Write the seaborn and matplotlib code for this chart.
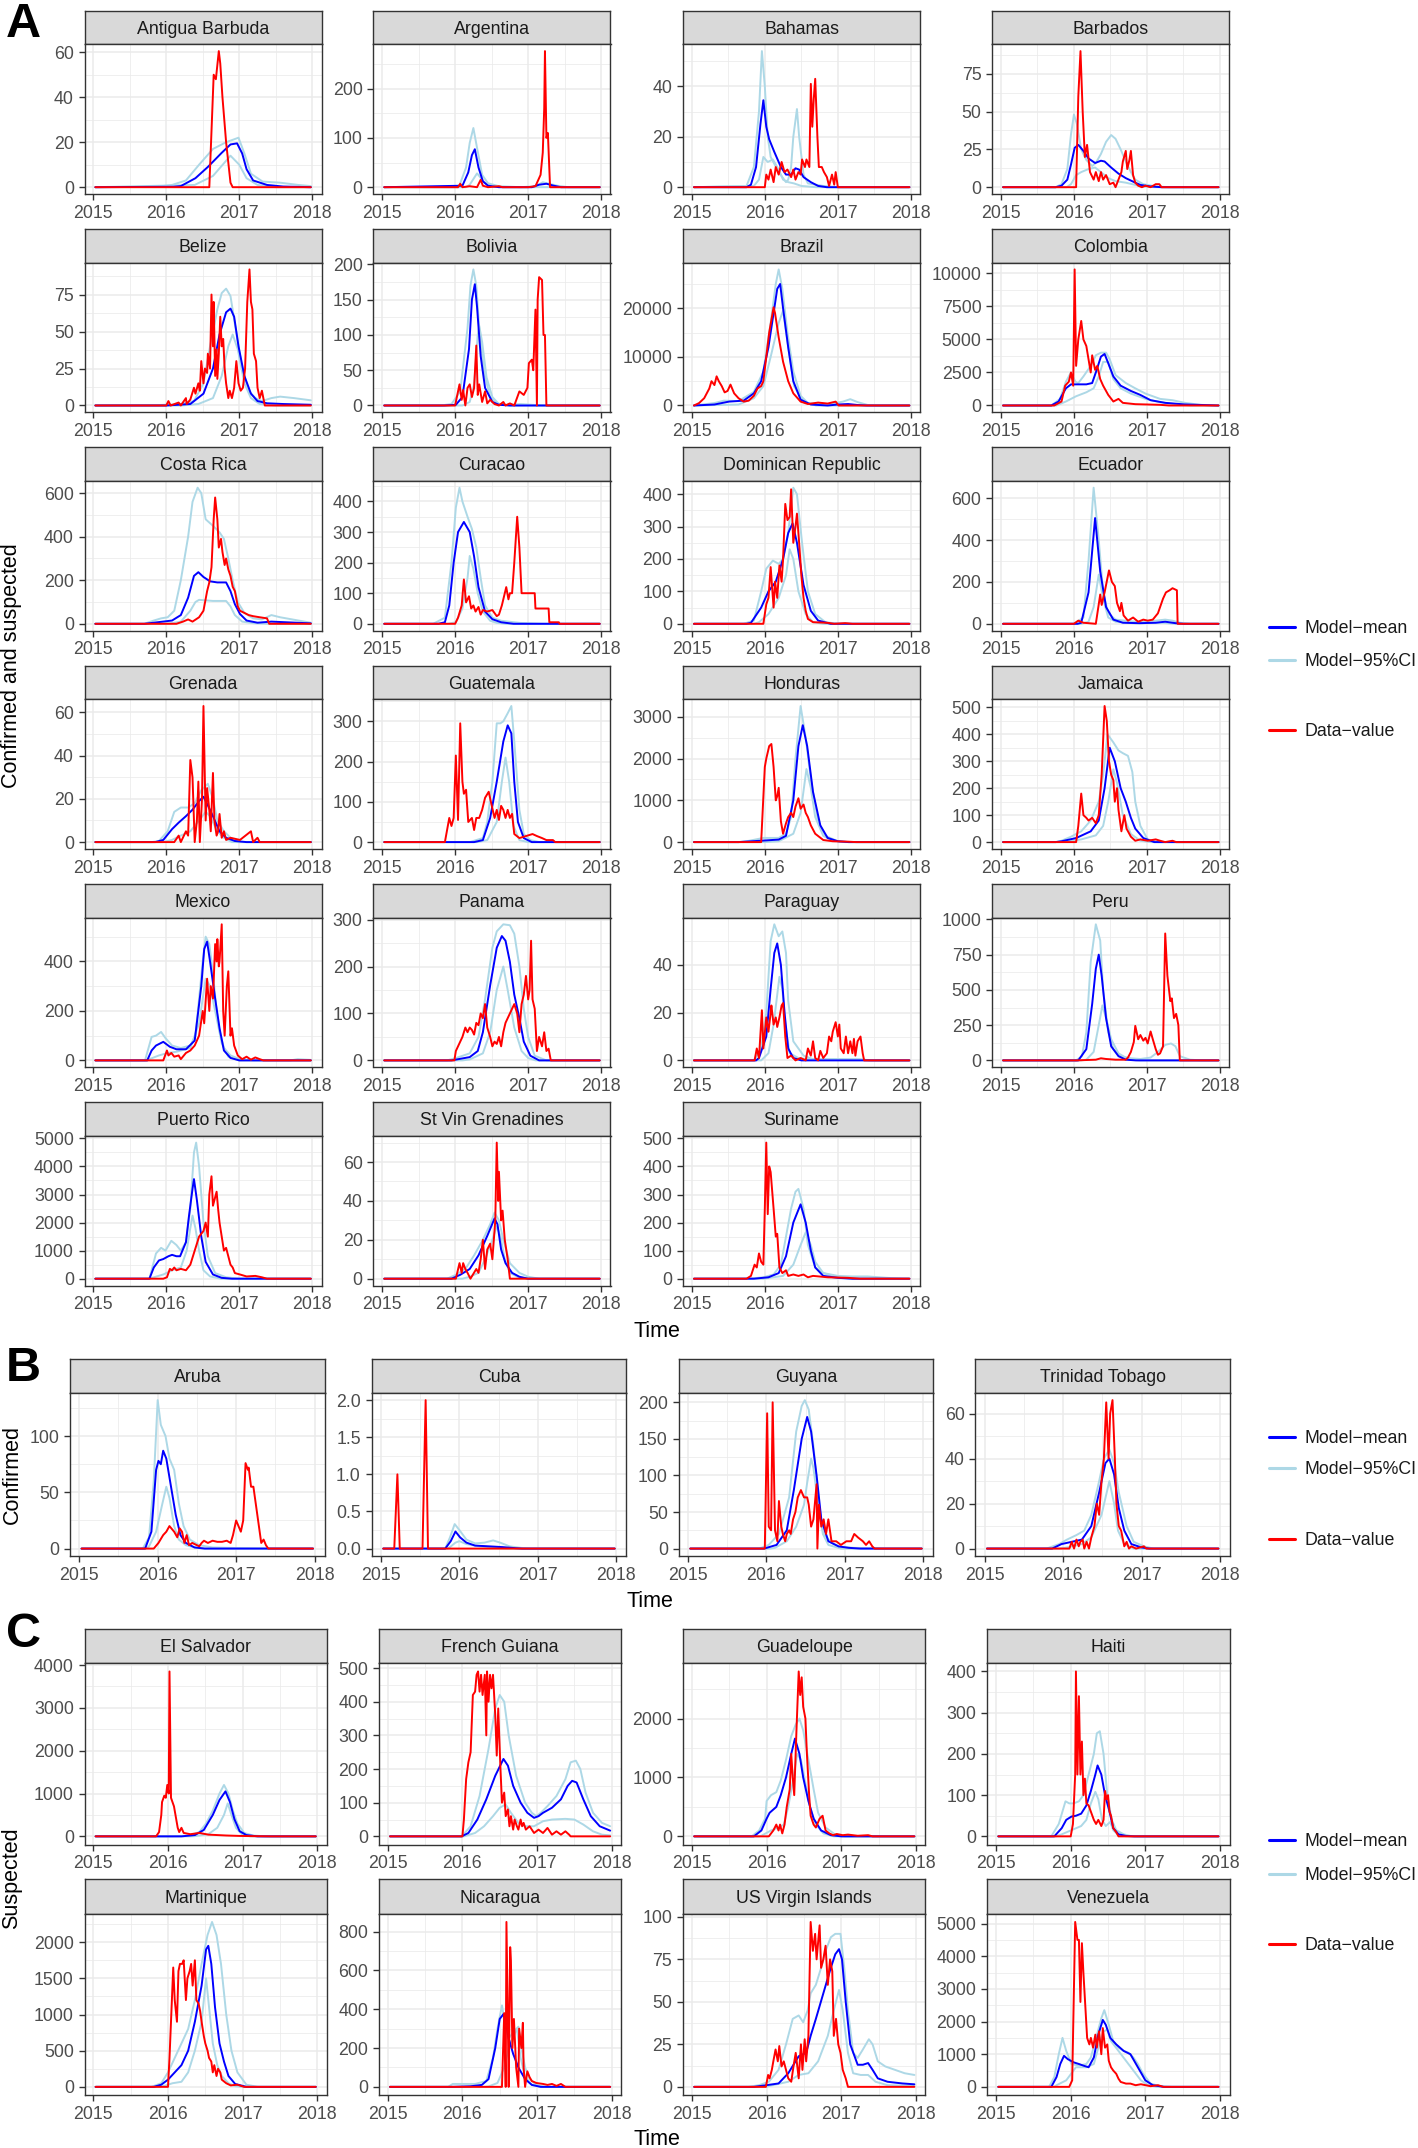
import matplotlib
matplotlib.use("Agg")
import matplotlib.pyplot as plt
from matplotlib.lines import Line2D
import seaborn as sns

W, H = 1418, 2148

# DATA  (decimal year, cases) -- hi/lo = model 95% CI, mean = model mean, obs = reported data

antigua_hi = [(2015.03,0),(2015.9,0.3),(2016.08,1),(2016.27,3),(2016.45,10),(2016.64,17),(2016.82,20),(2016.99,22),(2017.07,15),(2017.16,6),(2017.32,2.5),(2017.56,2),(2017.81,1),(2017.98,0.5)]
antigua_lo = [(2015.03,0),(2016.39,1),(2016.64,5),(2016.88,14),(2017.0,10),(2017.1,4),(2017.25,1),(2017.5,0),(2017.98,0)]
antigua_mean = [(2015.03,0),(2016.1,0.2),(2016.2,0.5),(2016.4,4),(2016.57,9),(2016.76,15.3),(2016.88,19),(2016.97,19.5),(2017.04,15),(2017.1,8),(2017.19,3),(2017.38,1),(2017.6,0.3),(2017.98,0)]
antigua_obs = [(2015.03,0),(2016.59,0),(2016.65,50),(2016.68,48),(2016.72,60.5),(2016.74,55),(2016.77,40),(2016.82,20),(2016.88,2),(2016.91,0),(2017.98,0)]
antigua_ticks = [0, 20, 40, 60]

argentina_hi = [(2015.03,0),(2016.05,0),(2016.15,40),(2016.2,90),(2016.25,120),(2016.3,80),(2016.37,25),(2016.45,8),(2016.6,2),(2016.9,0),(2017.1,2),(2017.2,10),(2017.4,3),(2017.55,0),(2017.98,0)]
argentina_lo = [(2015.03,0),(2016.15,0),(2016.2,5),(2016.3,28),(2016.4,10),(2016.5,2),(2016.65,0),(2017.98,0)]
argentina_mean = [(2015.03,0),(2016.1,3),(2016.18,30),(2016.23,65),(2016.27,77),(2016.32,40),(2016.38,12),(2016.45,3),(2016.6,0),(2017.05,0),(2017.15,5),(2017.25,7),(2017.35,3),(2017.45,0),(2017.98,0)]
argentina_obs = [(2015.03,0),(2016.04,0),(2016.07,7),(2016.1,0),(2016.2,2),(2016.3,0),(2016.35,15),(2016.38,3),(2016.45,0),(2016.6,2),(2016.65,0),(2017.0,0),(2017.1,2),(2017.17,25),(2017.2,70),(2017.22,160),(2017.23,276),(2017.25,100),(2017.27,110),(2017.3,0),(2017.98,0)]
argentina_ticks = [0, 100, 200]

bahamas_hi = [(2015.03,0),(2015.75,0.5),(2015.85,8),(2015.92,30),(2015.96,54),(2016.0,40),(2016.04,20),(2016.08,12),(2016.19,6),(2016.29,2),(2016.32,3),(2016.36,8),(2016.39,20),(2016.44,31),(2016.47,20),(2016.53,5),(2016.59,1.5),(2016.8,0.5),(2017.0,0),(2017.98,0)]
bahamas_lo = [(2015.03,0),(2015.85,0.5),(2015.92,3),(2015.98,12),(2016.04,10),(2016.11,11),(2016.19,7),(2016.25,3),(2016.32,2),(2016.4,1.5),(2016.5,0.5),(2016.7,0),(2017.98,0)]
bahamas_mean = [(2015.03,0),(2015.75,0),(2015.81,1),(2015.88,8),(2015.94,25),(2015.98,34.5),(2016.02,24),(2016.06,19),(2016.13,14),(2016.22,8),(2016.29,5),(2016.36,5),(2016.42,7.5),(2016.47,7),(2016.53,4),(2016.63,2),(2016.73,0.5),(2016.85,0),(2017.98,0)]
bahamas_obs = [(2015.03,0),(2016.0,0),(2016.02,5),(2016.05,3),(2016.08,7),(2016.12,2),(2016.15,8),(2016.19,5),(2016.23,10),(2016.27,6),(2016.31,7),(2016.36,4),(2016.39,7),(2016.42,3),(2016.46,6),(2016.49,5),(2016.51,11),(2016.55,8),(2016.57,11),(2016.61,8),(2016.63,41),(2016.65,24),(2016.67,35),(2016.69,43),(2016.72,20),(2016.74,8),(2016.78,8),(2016.81,6),(2016.85,4),(2016.88,0.5),(2016.92,5),(2016.95,1),(2016.97,6),(2017.0,0),(2017.98,0)]
bahamas_ticks = [0, 20, 40]

barbados_hi = [(2015.03,0),(2015.75,0),(2015.83,2),(2015.91,12),(2015.96,35),(2016.0,48),(2016.04,42),(2016.1,25),(2016.17,18),(2016.25,14),(2016.3,16),(2016.37,22),(2016.44,30),(2016.51,34.5),(2016.57,32),(2016.64,25),(2016.71,17),(2016.78,10),(2016.84,5),(2016.95,2),(2017.12,0.5),(2017.3,0),(2017.98,0)]
barbados_lo = [(2015.03,0),(2015.9,0),(2015.96,2),(2016.03,8),(2016.1,10),(2016.2,12),(2016.29,13),(2016.37,10),(2016.47,6),(2016.57,4),(2016.71,3),(2016.84,1.5),(2016.95,0.5),(2017.1,0),(2017.98,0)]
barbados_mean = [(2015.03,0),(2015.75,0),(2015.83,1),(2015.91,5),(2015.96,15),(2016.01,26),(2016.06,28),(2016.13,24),(2016.2,19),(2016.29,16),(2016.37,17.5),(2016.42,17),(2016.51,13),(2016.61,9),(2016.71,6),(2016.84,3),(2016.91,1.5),(2017.05,0.5),(2017.2,0),(2017.98,0)]
barbados_obs = [(2015.03,0),(2016.03,0),(2016.06,60),(2016.09,90),(2016.12,50),(2016.15,20),(2016.18,28),(2016.22,10),(2016.27,5),(2016.3,10),(2016.34,4),(2016.37,10),(2016.4,5),(2016.44,8),(2016.49,2),(2016.54,3),(2016.57,0),(2016.61,5),(2016.65,10),(2016.67,17),(2016.71,24),(2016.73,12),(2016.76,18),(2016.78,24),(2016.81,8),(2016.84,3),(2016.88,1),(2016.93,0),(2016.98,1),(2017.05,0),(2017.12,2),(2017.17,2),(2017.2,0),(2017.98,0)]
barbados_ticks = [0, 25, 50, 75]

belize_hi = [(2015.03,0),(2015.9,0.3),(2016.2,1),(2016.38,3),(2016.51,15),(2016.6,40),(2016.7,65),(2016.76,76),(2016.82,79),(2016.88,74),(2016.94,55),(2017.04,25),(2017.13,10),(2017.22,5),(2017.31,3),(2017.44,5),(2017.56,6),(2017.75,5),(2017.98,3.5)]
belize_lo = [(2015.03,0),(2016.2,0),(2016.44,1),(2016.64,5),(2016.76,20),(2016.85,40),(2016.91,48),(2016.98,38),(2017.07,15),(2017.16,5),(2017.28,1),(2017.5,0),(2017.98,0)]
belize_mean = [(2015.03,0),(2016.0,0),(2016.33,1),(2016.51,8),(2016.64,25),(2016.73,48),(2016.82,63),(2016.88,65.5),(2016.93,60),(2016.99,40),(2017.07,20),(2017.16,8),(2017.25,3),(2017.38,1.5),(2017.6,1),(2017.98,0.5)]
belize_obs = [(2015.03,0),(2016.0,0),(2016.03,3),(2016.06,0),(2016.17,2),(2016.2,0),(2016.27,5),(2016.28,1),(2016.33,4),(2016.38,12),(2016.4,8),(2016.44,15),(2016.46,10),(2016.48,30),(2016.51,15),(2016.53,25),(2016.56,22),(2016.57,35),(2016.6,25),(2016.62,75),(2016.64,40),(2016.65,70),(2016.67,20),(2016.69,38),(2016.7,18),(2016.72,35),(2016.74,60),(2016.76,40),(2016.78,45),(2016.8,25),(2016.82,15),(2016.85,5),(2016.87,10),(2016.9,5),(2016.93,12),(2016.96,30),(2016.99,15),(2017.02,10),(2017.05,12),(2017.08,25),(2017.11,70),(2017.14,92),(2017.16,70),(2017.18,65),(2017.2,35),(2017.23,30),(2017.25,12),(2017.28,5),(2017.31,10),(2017.35,0),(2017.98,0)]
belize_ticks = [0, 25, 50, 75]

bolivia_hi = [(2015.03,0),(2015.8,0),(2015.95,2),(2016.07,20),(2016.17,110),(2016.21,170),(2016.25,193),(2016.29,170),(2016.33,110),(2016.4,45),(2016.48,12),(2016.57,3),(2016.69,1),(2016.9,2),(2017.05,1),(2017.2,0),(2017.98,0)]
bolivia_lo = [(2015.03,0),(2016.1,0),(2016.2,5),(2016.26,30),(2016.31,100),(2016.33,113),(2016.37,90),(2016.43,40),(2016.51,12),(2016.6,2),(2016.75,0),(2017.98,0)]
bolivia_mean = [(2015.03,0),(2015.85,0),(2016.01,1),(2016.1,12),(2016.19,80),(2016.23,150),(2016.27,172),(2016.3,140),(2016.35,70),(2016.41,25),(2016.51,5),(2016.6,1),(2016.75,0),(2017.98,0)]
bolivia_obs = [(2015.03,0),(2016.0,0),(2016.02,10),(2016.06,30),(2016.09,8),(2016.11,22),(2016.14,0),(2016.17,25),(2016.2,30),(2016.23,12),(2016.26,25),(2016.29,85),(2016.31,15),(2016.33,30),(2016.37,5),(2016.41,20),(2016.44,3),(2016.48,8),(2016.54,2),(2016.6,0),(2016.66,5),(2016.69,0),(2016.75,3),(2016.81,0),(2016.88,20),(2016.94,15),(2016.99,25),(2017.01,60),(2017.05,65),(2017.07,50),(2017.1,136),(2017.12,0),(2017.13,150),(2017.15,182),(2017.19,178),(2017.21,100),(2017.23,100),(2017.25,0),(2017.98,0)]
bolivia_ticks = [0, 50, 100, 150, 200]

brazil_hi = [(2015.03,0),(2015.31,500),(2015.44,1000),(2015.64,900),(2015.85,2800),(2015.98,7000),(2016.08,17000),(2016.15,25000),(2016.19,28000),(2016.24,24000),(2016.31,15000),(2016.39,7000),(2016.49,2000),(2016.59,500),(2016.86,200),(2017.07,800),(2017.17,1300),(2017.27,700),(2017.41,100),(2017.55,0),(2017.98,0)]
brazil_lo = [(2015.03,0),(2015.64,200),(2015.85,1500),(2015.98,4000),(2016.08,10000),(2016.19,17000),(2016.25,19500),(2016.32,12000),(2016.4,4000),(2016.53,800),(2016.7,0),(2017.98,0)]
brazil_mean = [(2015.03,0),(2015.31,200),(2015.51,800),(2015.71,1000),(2015.85,2500),(2015.95,5000),(2016.05,12000),(2016.12,19000),(2016.17,24000),(2016.21,25000),(2016.25,20000),(2016.32,12000),(2016.39,5000),(2016.49,1200),(2016.63,200),(2016.86,0),(2017.0,200),(2017.14,300),(2017.27,100),(2017.4,0),(2017.98,0)]
brazil_obs = [(2015.03,0),(2015.1,500),(2015.17,1500),(2015.24,3500),(2015.27,5000),(2015.31,4200),(2015.34,6000),(2015.37,5000),(2015.41,4000),(2015.45,2700),(2015.49,3000),(2015.53,4300),(2015.58,2500),(2015.64,1500),(2015.71,800),(2015.78,1000),(2015.85,2000),(2015.9,3500),(2015.95,4000),(2015.98,5000),(2016.02,10000),(2016.06,15000),(2016.12,20200),(2016.14,19000),(2016.19,14000),(2016.25,9000),(2016.32,5000),(2016.39,2500),(2016.49,800),(2016.59,300),(2016.73,600),(2016.86,400),(2016.97,800),(2017.01,0),(2017.98,0)]
brazil_ticks = [0, 10000, 20000]

colombia_hi = [(2015.03,0),(2015.69,0),(2015.81,500),(2015.89,1800),(2015.96,2500),(2016.02,1800),(2016.06,1700),(2016.13,2200),(2016.23,3000),(2016.3,3800),(2016.37,4000),(2016.44,4000),(2016.49,3500),(2016.57,2300),(2016.71,1700),(2016.84,1300),(2016.98,900),(2017.18,500),(2017.35,400),(2017.52,200),(2017.73,50),(2017.98,0)]
colombia_lo = [(2015.03,0),(2015.76,0),(2015.89,300),(2016.03,700),(2016.17,1000),(2016.27,1300),(2016.34,2200),(2016.4,3300),(2016.47,3300),(2016.54,2000),(2016.64,1300),(2016.78,900),(2016.98,500),(2017.18,250),(2017.39,100),(2017.6,0),(2017.98,0)]
colombia_mean = [(2015.03,0),(2015.69,0),(2015.79,300),(2015.89,1300),(2015.96,1600),(2016.17,1600),(2016.25,1700),(2016.3,2500),(2016.37,3700),(2016.42,3900),(2016.47,3200),(2016.54,2200),(2016.64,1500),(2016.78,1100),(2016.91,800),(2017.05,400),(2017.25,200),(2017.52,80),(2017.98,0)]
colombia_obs = [(2015.03,0),(2015.73,0),(2015.83,300),(2015.88,1500),(2015.93,1800),(2015.96,2500),(2015.99,1500),(2016.01,10300),(2016.03,3000),(2016.06,5000),(2016.1,6400),(2016.13,5000),(2016.17,4500),(2016.2,3500),(2016.23,2500),(2016.25,3800),(2016.29,2700),(2016.32,3000),(2016.36,2000),(2016.4,1500),(2016.47,800),(2016.54,300),(2016.61,500),(2016.67,200),(2016.84,100),(2017.18,50),(2017.3,0),(2017.98,0)]
colombia_ticks = [0, 2500, 5000, 7500, 10000]

costarica_hi = [(2015.03,0),(2015.7,0),(2015.83,15),(2015.93,25),(2016.02,30),(2016.11,60),(2016.2,200),(2016.3,400),(2016.36,560),(2016.43,625),(2016.48,600),(2016.54,480),(2016.64,450),(2016.73,420),(2016.79,390),(2016.85,300),(2016.91,200),(2016.98,100),(2017.07,50),(2017.19,25),(2017.31,20),(2017.44,40),(2017.56,30),(2017.81,15),(2017.98,5)]
costarica_lo = [(2015.03,0),(2015.9,0),(2016.08,3),(2016.2,10),(2016.33,60),(2016.4,100),(2016.45,110),(2016.64,105),(2016.82,105),(2016.88,80),(2016.94,40),(2017.04,10),(2017.19,3),(2017.4,0),(2017.98,0)]
costarica_mean = [(2015.03,0),(2015.7,0),(2015.83,5),(2016.08,15),(2016.2,40),(2016.3,120),(2016.38,220),(2016.44,237),(2016.51,215),(2016.6,195),(2016.7,190),(2016.82,190),(2016.88,150),(2016.94,90),(2017.01,45),(2017.1,15),(2017.25,5),(2017.44,10),(2017.98,2)]
costarica_obs = [(2015.03,0),(2016.14,0),(2016.23,10),(2016.3,20),(2016.36,10),(2016.45,30),(2016.51,60),(2016.56,150),(2016.59,190),(2016.62,260),(2016.65,480),(2016.67,580),(2016.7,480),(2016.72,350),(2016.75,390),(2016.77,330),(2016.8,270),(2016.82,300),(2016.85,250),(2016.88,220),(2016.91,170),(2016.94,150),(2016.98,80),(2017.01,60),(2017.07,50),(2017.13,40),(2017.19,35),(2017.28,30),(2017.38,25),(2017.41,0),(2017.98,0)]
costarica_ticks = [0, 200, 400, 600]

curacao_hi = [(2015.03,0),(2015.7,0),(2015.86,20),(2015.95,200),(2016.01,380),(2016.06,445),(2016.1,400),(2016.17,350),(2016.23,310),(2016.29,250),(2016.35,150),(2016.41,60),(2016.51,20),(2016.63,10),(2016.88,3),(2017.19,0),(2017.98,0)]
curacao_lo = [(2015.03,0),(2015.9,0),(2016.01,5),(2016.1,50),(2016.17,150),(2016.2,222),(2016.25,180),(2016.31,100),(2016.38,40),(2016.48,10),(2016.57,3),(2016.7,0),(2017.98,0)]
curacao_mean = [(2015.03,0),(2015.77,0),(2015.86,5),(2015.92,60),(2015.98,200),(2016.04,300),(2016.12,333),(2016.2,300),(2016.26,220),(2016.32,120),(2016.41,40),(2016.51,15),(2016.63,5),(2016.8,0),(2017.98,0)]
curacao_obs = [(2015.03,0),(2016.0,0),(2016.04,20),(2016.09,60),(2016.12,145),(2016.15,70),(2016.19,90),(2016.22,50),(2016.25,60),(2016.28,40),(2016.32,55),(2016.35,30),(2016.38,45),(2016.44,40),(2016.51,45),(2016.57,25),(2016.6,30),(2016.64,60),(2016.68,100),(2016.7,120),(2016.73,80),(2016.75,100),(2016.78,100),(2016.81,200),(2016.85,350),(2016.88,250),(2016.91,100),(2017.09,100),(2017.1,50),(2017.28,50),(2017.29,5),(2017.42,5),(2017.43,0),(2017.98,0)]
curacao_ticks = [0, 100, 200, 300, 400]

dominican_hi = [(2015.03,0),(2015.71,0),(2015.85,10),(2015.95,100),(2016.02,170),(2016.11,195),(2016.19,185),(2016.25,200),(2016.32,280),(2016.39,420),(2016.44,400),(2016.51,250),(2016.59,100),(2016.69,30),(2016.83,5),(2017.0,0),(2017.98,0)]
dominican_lo = [(2015.03,0),(2015.85,0),(2015.92,5),(2016.05,30),(2016.19,80),(2016.29,150),(2016.34,230),(2016.39,200),(2016.46,100),(2016.56,30),(2016.66,5),(2016.8,0),(2017.98,0)]
dominican_mean = [(2015.03,0),(2015.75,0),(2015.81,3),(2015.95,50),(2016.05,100),(2016.15,130),(2016.25,200),(2016.32,280),(2016.38,310),(2016.44,250),(2016.53,120),(2016.63,40),(2016.73,10),(2016.9,0),(2017.98,0)]
dominican_obs = [(2015.03,0),(2015.98,0),(2016.02,60),(2016.05,80),(2016.08,175),(2016.12,50),(2016.14,130),(2016.17,80),(2016.2,180),(2016.23,130),(2016.25,200),(2016.28,370),(2016.31,320),(2016.34,330),(2016.36,415),(2016.39,250),(2016.42,300),(2016.44,340),(2016.47,250),(2016.5,150),(2016.53,80),(2016.56,40),(2016.59,15),(2016.66,5),(2016.86,3),(2016.95,0),(2017.1,2),(2017.2,0),(2017.98,0)]
dominican_ticks = [0, 100, 200, 300, 400]

ecuador_hi = [(2015.03,0),(2016.0,0),(2016.13,30),(2016.2,300),(2016.27,650),(2016.34,400),(2016.4,150),(2016.47,50),(2016.57,20),(2016.84,10),(2017.12,15),(2017.25,20),(2017.35,15),(2017.45,5),(2017.6,0),(2017.98,0)]
ecuador_lo = [(2015.03,0),(2016.1,0),(2016.2,10),(2016.27,80),(2016.34,235),(2016.4,120),(2016.47,30),(2016.57,10),(2016.84,2),(2017.18,5),(2017.4,0),(2017.98,0)]
ecuador_mean = [(2015.03,0),(2016.05,0),(2016.1,5),(2016.2,150),(2016.29,505),(2016.36,250),(2016.44,80),(2016.54,20),(2016.67,5),(2016.9,3),(2017.12,5),(2017.25,10),(2017.39,3),(2017.5,0),(2017.98,0)]
ecuador_obs = [(2015.03,0),(2016.0,0),(2016.06,15),(2016.13,5),(2016.3,0),(2016.36,140),(2016.38,90),(2016.42,150),(2016.48,255),(2016.52,200),(2016.56,180),(2016.59,100),(2016.63,60),(2016.65,100),(2016.68,40),(2016.74,15),(2016.81,30),(2016.88,10),(2016.95,20),(2017.01,15),(2017.08,20),(2017.15,50),(2017.22,120),(2017.26,150),(2017.31,160),(2017.35,170),(2017.41,160),(2017.42,0),(2017.98,0)]
ecuador_ticks = [0, 200, 400, 600]

grenada_hi = [(2015.03,0),(2015.8,0),(2015.9,0.5),(2016.02,5),(2016.11,14),(2016.2,16),(2016.3,16),(2016.39,18),(2016.48,24),(2016.57,27),(2016.64,20),(2016.7,10),(2016.79,5),(2016.88,2),(2017.0,0),(2017.98,0)]
grenada_lo = [(2015.03,0),(2015.95,0),(2016.08,1),(2016.2,3),(2016.33,5),(2016.45,10),(2016.54,14),(2016.6,12),(2016.7,5),(2016.79,2),(2016.9,0),(2017.98,0)]
grenada_mean = [(2015.03,0),(2015.85,0),(2015.96,1),(2016.08,6),(2016.17,9),(2016.27,12),(2016.36,15),(2016.45,19),(2016.51,21),(2016.57,17),(2016.64,12),(2016.73,5),(2016.82,2),(2016.94,0.5),(2017.1,0),(2017.98,0)]
grenada_obs = [(2015.03,0),(2016.11,0),(2016.17,3),(2016.2,0),(2016.27,5),(2016.3,3),(2016.33,38),(2016.36,30),(2016.39,0),(2016.42,10),(2016.44,28),(2016.46,0),(2016.49,20),(2016.51,63),(2016.54,10),(2016.56,25),(2016.59,15),(2016.61,5),(2016.64,32),(2016.66,10),(2016.69,3),(2016.71,5),(2016.73,13),(2016.76,2),(2016.79,5),(2016.82,1),(2016.88,2),(2017.01,1),(2017.16,5),(2017.19,0),(2017.25,2),(2017.28,0),(2017.98,0)]
grenada_ticks = [0, 20, 40, 60]

guatemala_hi = [(2015.03,0),(2016.2,0),(2016.38,10),(2016.44,50),(2016.51,150),(2016.57,295),(2016.62,295),(2016.66,300),(2016.72,320),(2016.77,338),(2016.81,250),(2016.88,80),(2016.94,20),(2017.03,5),(2017.15,0),(2017.98,0)]
guatemala_lo = [(2015.03,0),(2016.3,0),(2016.44,5),(2016.57,50),(2016.64,150),(2016.69,210),(2016.74,150),(2016.8,40),(2016.88,5),(2017.0,0),(2017.98,0)]
guatemala_mean = [(2015.03,0),(2016.26,0),(2016.38,5),(2016.48,60),(2016.57,150),(2016.66,250),(2016.72,290),(2016.77,270),(2016.81,150),(2016.86,50),(2016.94,10),(2017.05,0),(2017.98,0)]
guatemala_obs = [(2015.03,0),(2015.86,0),(2015.92,60),(2015.95,40),(2015.98,60),(2016.01,215),(2016.04,55),(2016.07,295),(2016.1,150),(2016.12,120),(2016.15,130),(2016.18,50),(2016.23,60),(2016.26,30),(2016.29,60),(2016.33,60),(2016.37,80),(2016.41,110),(2016.46,125),(2016.49,100),(2016.54,60),(2016.57,80),(2016.6,55),(2016.63,90),(2016.66,80),(2016.69,60),(2016.72,80),(2016.75,60),(2016.78,70),(2016.81,20),(2016.88,10),(2016.97,15),(2017.06,20),(2017.12,15),(2017.19,10),(2017.25,5),(2017.34,5),(2017.37,0),(2017.98,0)]
guatemala_ticks = [0, 100, 200, 300]

honduras_hi = [(2015.03,0),(2015.64,0),(2015.78,30),(2015.98,100),(2016.19,100),(2016.29,200),(2016.36,600),(2016.42,2000),(2016.49,3260),(2016.56,2500),(2016.63,1500),(2016.73,500),(2016.83,150),(2017.0,20),(2017.15,0),(2017.98,0)]
honduras_lo = [(2015.03,0),(2016.0,0),(2016.19,20),(2016.39,200),(2016.49,700),(2016.57,1750),(2016.63,1300),(2016.69,600),(2016.8,150),(2016.93,30),(2017.1,0),(2017.98,0)]
honduras_mean = [(2015.03,0),(2015.64,0),(2015.92,30),(2016.19,60),(2016.29,150),(2016.39,1000),(2016.46,2300),(2016.52,2800),(2016.58,2300),(2016.66,1200),(2016.76,400),(2016.86,100),(2017.0,20),(2017.15,0),(2017.98,0)]
honduras_obs = [(2015.03,0),(2015.95,0),(2016.0,1800),(2016.02,2000),(2016.06,2300),(2016.09,2350),(2016.12,1800),(2016.15,1000),(2016.17,1100),(2016.19,1300),(2016.22,500),(2016.25,200),(2016.29,450),(2016.32,600),(2016.36,700),(2016.39,600),(2016.42,850),(2016.46,1050),(2016.49,800),(2016.53,900),(2016.56,700),(2016.59,600),(2016.63,400),(2016.66,300),(2016.69,200),(2016.8,50),(2016.93,20),(2017.14,10),(2017.25,0),(2017.98,0)]
honduras_ticks = [0, 1000, 2000, 3000]

jamaica_hi = [(2015.03,0),(2015.75,0),(2015.83,5),(2015.96,20),(2016.1,40),(2016.23,80),(2016.34,150),(2016.4,250),(2016.46,400),(2016.54,370),(2016.61,340),(2016.67,330),(2016.74,320),(2016.8,260),(2016.84,150),(2016.91,60),(2017.01,10),(2017.15,0),(2017.98,0)]
jamaica_lo = [(2015.03,0),(2015.8,0),(2015.89,1),(2016.1,10),(2016.3,25),(2016.4,60),(2016.47,150),(2016.54,270),(2016.59,220),(2016.67,100),(2016.78,30),(2016.91,5),(2017.05,0),(2017.98,0)]
jamaica_mean = [(2015.03,0),(2015.75,0),(2015.83,3),(2016.03,15),(2016.23,40),(2016.34,80),(2016.42,200),(2016.49,350),(2016.56,300),(2016.64,200),(2016.71,150),(2016.78,90),(2016.84,50),(2016.95,15),(2017.1,0),(2017.98,0)]
jamaica_obs = [(2015.03,0),(2016.03,0),(2016.06,60),(2016.1,180),(2016.13,100),(2016.17,90),(2016.2,80),(2016.25,90),(2016.3,70),(2016.34,100),(2016.38,250),(2016.42,505),(2016.45,450),(2016.48,300),(2016.51,250),(2016.54,230),(2016.56,150),(2016.59,200),(2016.61,120),(2016.65,40),(2016.69,100),(2016.72,50),(2016.78,20),(2016.84,5),(2016.91,10),(2017.01,5),(2017.12,10),(2017.18,5),(2017.25,0),(2017.35,5),(2017.4,0),(2017.98,0)]
jamaica_ticks = [0, 100, 200, 300, 400, 500]

mexico_hi = [(2015.03,0),(2015.71,0),(2015.8,95),(2015.86,100),(2015.93,115),(2015.99,90),(2016.08,60),(2016.2,50),(2016.33,60),(2016.4,100),(2016.45,250),(2016.5,400),(2016.54,500),(2016.59,470),(2016.64,350),(2016.69,200),(2016.73,120),(2016.79,50),(2016.88,20),(2017.01,5),(2017.2,0),(2017.7,0),(2017.8,5),(2017.98,2)]
mexico_lo = [(2015.03,0),(2015.74,0),(2015.77,5),(2015.9,20),(2016.02,30),(2016.14,35),(2016.33,50),(2016.45,150),(2016.54,330),(2016.6,300),(2016.67,200),(2016.76,70),(2016.85,15),(2017.0,0),(2017.98,0)]
mexico_mean = [(2015.03,0),(2015.74,0),(2015.8,40),(2015.86,60),(2015.96,75),(2016.05,55),(2016.14,45),(2016.27,45),(2016.39,80),(2016.48,300),(2016.52,450),(2016.56,480),(2016.6,400),(2016.67,250),(2016.73,130),(2016.79,40),(2016.88,10),(2017.0,0),(2017.98,0)]
mexico_obs = [(2015.03,0),(2015.96,0),(2016.01,40),(2016.03,20),(2016.07,30),(2016.11,15),(2016.17,20),(2016.2,5),(2016.27,30),(2016.33,40),(2016.39,60),(2016.45,100),(2016.5,200),(2016.52,150),(2016.56,330),(2016.59,200),(2016.61,300),(2016.64,250),(2016.67,470),(2016.69,400),(2016.7,490),(2016.72,380),(2016.73,400),(2016.76,550),(2016.78,200),(2016.8,100),(2016.83,300),(2016.85,360),(2016.88,100),(2016.9,130),(2016.93,60),(2016.98,20),(2017.04,5),(2017.1,15),(2017.16,3),(2017.22,12),(2017.28,5),(2017.33,0),(2017.98,0)]
mexico_ticks = [0, 200, 400]

panama_hi = [(2015.03,0),(2015.89,0),(2016.01,5),(2016.2,15),(2016.32,50),(2016.41,130),(2016.51,240),(2016.57,275),(2016.66,290),(2016.75,288),(2016.81,270),(2016.88,200),(2016.94,110),(2017.0,50),(2017.09,10),(2017.25,0),(2017.98,0)]
panama_lo = [(2015.03,0),(2016.1,0),(2016.2,2),(2016.38,15),(2016.48,60),(2016.57,150),(2016.66,200),(2016.72,150),(2016.81,70),(2016.91,20),(2017.0,5),(2017.1,0),(2017.98,0)]
panama_mean = [(2015.03,0),(2015.95,0),(2016.2,7),(2016.31,20),(2016.38,60),(2016.48,160),(2016.57,240),(2016.64,265),(2016.69,255),(2016.75,210),(2016.81,140),(2016.88,90),(2016.94,40),(2017.03,10),(2017.15,0),(2017.98,0)]
panama_obs = [(2015.03,0),(2015.99,0),(2016.01,20),(2016.04,30),(2016.07,40),(2016.1,50),(2016.14,70),(2016.17,60),(2016.2,70),(2016.23,65),(2016.26,55),(2016.29,80),(2016.32,75),(2016.35,100),(2016.38,90),(2016.41,120),(2016.44,70),(2016.48,50),(2016.51,30),(2016.54,40),(2016.57,35),(2016.6,50),(2016.63,30),(2016.66,60),(2016.69,80),(2016.72,90),(2016.75,100),(2016.78,110),(2016.81,120),(2016.85,100),(2016.88,60),(2016.91,120),(2016.94,140),(2016.97,180),(2017.0,130),(2017.02,150),(2017.04,255),(2017.06,130),(2017.09,110),(2017.12,20),(2017.15,50),(2017.19,30),(2017.22,60),(2017.25,20),(2017.28,25),(2017.31,0),(2017.98,0)]
panama_ticks = [0, 100, 200, 300]

paraguay_hi = [(2015.03,0),(2015.85,0),(2015.95,5),(2016.02,20),(2016.08,50),(2016.13,57),(2016.19,52),(2016.24,54),(2016.29,45),(2016.32,25),(2016.39,8),(2016.53,2),(2016.66,0.5),(2017.0,0.5),(2017.3,0.3),(2017.5,0),(2017.98,0)]
paraguay_lo = [(2015.03,0),(2015.95,0),(2016.05,3),(2016.12,15),(2016.16,25),(2016.2,35),(2016.24,30),(2016.28,15),(2016.34,3),(2016.46,1),(2016.6,0.5),(2017.3,0.5),(2017.45,0),(2017.98,0)]
paraguay_mean = [(2015.03,0),(2015.88,0),(2015.92,1),(2016.02,10),(2016.08,30),(2016.13,45),(2016.17,49),(2016.22,40),(2016.27,20),(2016.32,5),(2016.39,1),(2016.5,0),(2017.98,0)]
paraguay_obs = [(2015.03,0),(2015.86,0),(2015.89,5),(2015.92,1),(2015.96,21),(2015.98,5),(2016.02,18),(2016.05,12),(2016.08,20),(2016.09,23),(2016.12,15),(2016.15,18),(2016.17,14),(2016.2,18),(2016.23,23),(2016.25,24),(2016.28,10),(2016.31,1),(2016.36,2),(2016.42,0),(2016.49,1),(2016.56,0),(2016.59,5),(2016.63,2),(2016.66,8),(2016.69,1),(2016.73,0),(2016.76,4),(2016.8,1),(2016.85,3),(2016.88,10),(2016.91,8),(2016.93,12),(2016.97,16),(2017.0,10),(2017.02,15),(2017.04,5),(2017.08,3),(2017.11,10),(2017.14,3),(2017.17,8),(2017.2,3),(2017.22,9),(2017.24,2),(2017.27,8),(2017.31,10),(2017.34,3),(2017.36,0),(2017.98,0)]
paraguay_ticks = [0, 20, 40]

peru_hi = [(2015.03,0),(2016.03,0),(2016.11,30),(2016.17,200),(2016.23,700),(2016.3,965),(2016.36,850),(2016.4,500),(2016.47,200),(2016.54,80),(2016.64,30),(2016.78,15),(2016.91,10),(2017.05,20),(2017.15,60),(2017.25,110),(2017.33,120),(2017.39,100),(2017.45,30),(2017.59,5),(2017.75,0),(2017.98,0)]
peru_lo = [(2015.03,0),(2016.1,0),(2016.17,5),(2016.27,60),(2016.34,250),(2016.39,390),(2016.44,300),(2016.51,150),(2016.61,50),(2016.74,10),(2016.9,0),(2017.98,0)]
peru_mean = [(2015.03,0),(2016.06,0),(2016.17,80),(2016.25,400),(2016.3,650),(2016.34,750),(2016.38,600),(2016.44,300),(2016.51,100),(2016.61,30),(2016.71,5),(2016.85,0),(2017.98,0)]
peru_obs = [(2015.03,0),(2016.03,0),(2016.3,5),(2016.37,15),(2016.44,10),(2016.57,5),(2016.71,5),(2016.74,20),(2016.78,60),(2016.82,130),(2016.84,245),(2016.88,150),(2016.91,180),(2016.95,140),(2016.98,160),(2017.01,120),(2017.05,205),(2017.08,150),(2017.12,80),(2017.15,40),(2017.18,50),(2017.22,100),(2017.25,900),(2017.28,600),(2017.32,420),(2017.34,440),(2017.37,300),(2017.4,330),(2017.43,250),(2017.45,0),(2017.98,0)]
peru_ticks = [0, 250, 500, 750, 1000]

puertorico_hi = [(2015.03,0),(2015.77,0),(2015.86,900),(2015.93,1100),(2015.99,1000),(2016.07,1350),(2016.14,1200),(2016.2,1000),(2016.27,1300),(2016.33,2500),(2016.38,4500),(2016.41,4850),(2016.45,4000),(2016.51,2000),(2016.57,800),(2016.67,200),(2016.82,50),(2017.0,0),(2017.98,0)]
puertorico_lo = [(2015.03,0),(2015.77,0),(2015.83,50),(2015.96,150),(2016.08,300),(2016.2,400),(2016.28,1000),(2016.33,1800),(2016.36,2250),(2016.4,1800),(2016.45,1000),(2016.51,300),(2016.6,80),(2016.75,0),(2017.98,0)]
puertorico_mean = [(2015.03,0),(2015.77,0),(2015.83,400),(2015.9,650),(2015.96,700),(2016.03,800),(2016.08,850),(2016.14,800),(2016.19,800),(2016.27,1300),(2016.31,2200),(2016.36,3200),(2016.38,3550),(2016.42,2800),(2016.48,1500),(2016.54,600),(2016.64,150),(2016.76,30),(2016.9,0),(2017.98,0)]
puertorico_obs = [(2015.03,0),(2015.96,0),(2016.01,50),(2016.05,350),(2016.08,300),(2016.11,400),(2016.14,300),(2016.2,350),(2016.27,300),(2016.33,500),(2016.39,1000),(2016.45,1500),(2016.51,1700),(2016.54,2000),(2016.57,1500),(2016.59,3000),(2016.62,3650),(2016.64,2600),(2016.66,2800),(2016.69,3100),(2016.71,2500),(2016.73,2000),(2016.76,1500),(2016.79,1000),(2016.82,1100),(2016.85,800),(2016.88,500),(2016.91,400),(2016.94,200),(2017.01,150),(2017.1,80),(2017.22,100),(2017.31,50),(2017.38,0),(2017.98,0)]
puertorico_ticks = [0, 1000, 2000, 3000, 4000, 5000]

stvin_hi = [(2015.03,0),(2015.89,0),(2016.01,2),(2016.14,5),(2016.26,12),(2016.38,20),(2016.48,28),(2016.54,34),(2016.6,30),(2016.66,20),(2016.75,8),(2016.88,3),(2017.0,1),(2017.15,0),(2017.98,0)]
stvin_lo = [(2015.03,0),(2016.1,0),(2016.2,1),(2016.32,3),(2016.41,10),(2016.51,20),(2016.57,27),(2016.62,22),(2016.68,10),(2016.75,3),(2016.88,0.5),(2017.0,0),(2017.98,0)]
stvin_mean = [(2015.03,0),(2015.95,0),(2016.07,2),(2016.2,5),(2016.32,12),(2016.44,22),(2016.54,31),(2016.58,28),(2016.63,15),(2016.69,8),(2016.78,3),(2016.88,1),(2017.0,0),(2017.98,0)]
stvin_obs = [(2015.03,0),(2016.01,0),(2016.06,8),(2016.09,3),(2016.11,8),(2016.14,5),(2016.17,3),(2016.21,0),(2016.29,5),(2016.32,3),(2016.35,10),(2016.38,20),(2016.41,5),(2016.44,15),(2016.48,18),(2016.51,10),(2016.53,20),(2016.55,30),(2016.57,70),(2016.59,40),(2016.6,55),(2016.63,30),(2016.65,35),(2016.68,20),(2016.72,10),(2016.75,0),(2017.98,0)]
stvin_ticks = [0, 20, 40, 60]

suriname_hi = [(2015.03,0),(2015.78,0),(2015.98,5),(2016.12,15),(2016.22,50),(2016.29,150),(2016.36,250),(2016.42,310),(2016.46,320),(2016.53,250),(2016.59,120),(2016.69,40),(2016.8,20),(2017.0,10),(2017.2,8),(2017.41,8),(2017.68,3),(2017.9,0),(2017.98,0)]
suriname_lo = [(2015.03,0),(2015.98,0),(2016.25,10),(2016.39,50),(2016.49,120),(2016.56,165),(2016.63,120),(2016.69,60),(2016.8,20),(2017.0,5),(2017.2,0),(2017.98,0)]
suriname_mean = [(2015.03,0),(2015.85,0),(2016.05,5),(2016.19,20),(2016.29,80),(2016.39,200),(2016.49,265),(2016.56,200),(2016.63,100),(2016.69,40),(2016.8,10),(2017.0,3),(2017.2,0),(2017.98,0)]
suriname_obs = [(2015.03,0),(2015.75,0),(2015.81,10),(2015.86,50),(2015.89,40),(2015.92,90),(2015.95,60),(2015.98,50),(2016.0,250),(2016.02,485),(2016.04,230),(2016.06,400),(2016.08,380),(2016.12,250),(2016.15,150),(2016.17,160),(2016.2,40),(2016.24,20),(2016.29,30),(2016.32,10),(2016.39,15),(2016.46,10),(2016.53,15),(2016.59,5),(2016.66,10),(2016.86,5),(2017.14,3),(2017.3,0),(2017.98,0)]
suriname_ticks = [0, 100, 200, 300, 400, 500]

aruba_hi = [(2015.03,0),(2015.81,0),(2015.89,10),(2015.95,60),(2016.0,132),(2016.04,110),(2016.1,100),(2016.15,80),(2016.21,70),(2016.27,40),(2016.33,20),(2016.41,8),(2016.53,3),(2016.7,1),(2016.99,0.5),(2017.45,0),(2017.98,0)]
aruba_lo = [(2015.03,0),(2015.85,0),(2015.89,2),(2015.98,15),(2016.06,40),(2016.11,55),(2016.15,45),(2016.21,20),(2016.27,8),(2016.36,3),(2016.47,1),(2016.6,0),(2017.98,0)]
aruba_mean = [(2015.03,0),(2015.84,0),(2015.92,15),(2015.98,70),(2016.01,78),(2016.04,75),(2016.07,87),(2016.11,80),(2016.17,55),(2016.23,30),(2016.29,12),(2016.36,5),(2016.47,1),(2016.6,0),(2017.98,0)]
aruba_obs = [(2015.03,0),(2015.95,0),(2016.01,5),(2016.07,12),(2016.11,15),(2016.15,20),(2016.21,15),(2016.25,10),(2016.28,18),(2016.31,15),(2016.34,5),(2016.37,12),(2016.4,3),(2016.44,5),(2016.53,2),(2016.56,5),(2016.59,7),(2016.64,5),(2016.7,7),(2016.76,6),(2016.82,6),(2016.88,7),(2016.93,5),(2016.96,12),(2017.0,25),(2017.03,20),(2017.06,15),(2017.09,25),(2017.12,76),(2017.15,70),(2017.16,72),(2017.19,55),(2017.22,55),(2017.25,40),(2017.29,20),(2017.32,5),(2017.35,8),(2017.38,3),(2017.41,0),(2017.98,0)]
aruba_ticks = [0, 50, 100]

cuba_hi = [(2015.03,0),(2015.82,0),(2015.88,0.15),(2015.94,0.33),(2016.0,0.25),(2016.09,0.12),(2016.2,0.07),(2016.32,0.08),(2016.43,0.11),(2016.52,0.08),(2016.64,0.03),(2016.78,0.01),(2016.9,0),(2017.98,0)]
cuba_lo = [(2015.03,0),(2015.85,0),(2015.88,0.02),(2015.95,0.08),(2016.0,0.1),(2016.09,0.06),(2016.26,0.03),(2016.49,0.01),(2016.6,0),(2017.98,0)]
cuba_mean = [(2015.03,0),(2015.82,0),(2015.89,0.1),(2015.95,0.23),(2016.01,0.15),(2016.09,0.08),(2016.2,0.04),(2016.38,0.03),(2016.55,0.02),(2016.72,0.005),(2016.8,0),(2017.98,0)]
cuba_obs = [(2015.03,0),(2015.17,0),(2015.21,1.0),(2015.24,0),(2015.53,0),(2015.57,2.0),(2015.6,0),(2017.98,0)]
cuba_ticks = [0.0, 0.5, 1.0, 1.5, 2.0]

guyana_hi = [(2015.03,0),(2015.91,0),(2016.03,5),(2016.16,20),(2016.29,70),(2016.38,160),(2016.45,195),(2016.49,203),(2016.54,190),(2016.6,140),(2016.67,60),(2016.73,20),(2016.83,8),(2016.92,3),(2017.11,1),(2017.37,0.5),(2017.5,0),(2017.98,0)]
guyana_lo = [(2015.03,0),(2016.05,0),(2016.11,1),(2016.26,10),(2016.38,30),(2016.48,60),(2016.52,90),(2016.57,123),(2016.6,110),(2016.66,60),(2016.72,20),(2016.79,5),(2016.95,0),(2017.98,0)]
guyana_mean = [(2015.03,0),(2015.97,0),(2016.13,5),(2016.26,25),(2016.35,80),(2016.45,150),(2016.52,180),(2016.57,160),(2016.64,100),(2016.7,40),(2016.79,10),(2016.92,3),(2017.05,1),(2017.2,0),(2017.98,0)]
guyana_obs = [(2015.03,0),(2015.98,0),(2016.01,185),(2016.03,30),(2016.06,25),(2016.08,200),(2016.11,25),(2016.14,10),(2016.16,65),(2016.19,30),(2016.21,20),(2016.24,10),(2016.26,20),(2016.29,25),(2016.31,20),(2016.34,40),(2016.37,50),(2016.4,70),(2016.44,80),(2016.48,70),(2016.52,70),(2016.54,60),(2016.57,30),(2016.6,40),(2016.64,88),(2016.65,0),(2016.67,60),(2016.7,30),(2016.73,40),(2016.76,20),(2016.79,40),(2016.83,10),(2016.89,10),(2016.95,5),(2017.02,10),(2017.08,10),(2017.12,20),(2017.17,15),(2017.23,10),(2017.27,5),(2017.31,10),(2017.35,3),(2017.38,0),(2017.98,0)]
guyana_ticks = [0, 50, 100, 150, 200]

trinidad_hi = [(2015.03,0),(2015.79,0),(2015.95,2),(2016.05,4),(2016.17,6),(2016.27,8),(2016.36,15),(2016.46,30),(2016.52,40),(2016.59,44),(2016.65,38),(2016.71,25),(2016.81,10),(2016.9,3),(2017.03,1),(2017.15,0),(2017.98,0)]
trinidad_lo = [(2015.03,0),(2015.95,0),(2016.05,0.5),(2016.24,2),(2016.36,5),(2016.49,15),(2016.59,30),(2016.65,20),(2016.7,8),(2016.78,2),(2016.9,0),(2017.98,0)]
trinidad_mean = [(2015.03,0),(2015.86,0),(2015.98,2),(2016.11,3),(2016.24,4),(2016.36,10),(2016.46,25),(2016.54,38),(2016.59,40),(2016.65,33),(2016.71,18),(2016.78,8),(2016.87,2),(2017.0,0.5),(2017.1,0),(2017.98,0)]
trinidad_obs = [(2015.03,0),(2016.08,0),(2016.11,3),(2016.14,0),(2016.17,4),(2016.2,1),(2016.22,3),(2016.25,4),(2016.27,0),(2016.3,3),(2016.33,0),(2016.36,5),(2016.4,10),(2016.43,20),(2016.46,15),(2016.49,30),(2016.52,40),(2016.55,65),(2016.58,40),(2016.6,60),(2016.63,66),(2016.66,40),(2016.68,20),(2016.71,10),(2016.74,8),(2016.78,1),(2016.81,3),(2016.84,0),(2016.87,1),(2016.93,0),(2017.03,1),(2017.06,0),(2017.98,0)]
trinidad_ticks = [0, 20, 40, 60]

elsalvador_hi = [(2015.03,0),(2016.06,0),(2016.3,20),(2016.42,100),(2016.51,300),(2016.6,600),(2016.69,1000),(2016.75,1200),(2016.81,1000),(2016.87,600),(2016.93,300),(2017.02,80),(2017.14,20),(2017.3,0),(2017.98,0)]
elsalvador_lo = [(2015.03,0),(2016.3,0),(2016.36,5),(2016.54,50),(2016.66,200),(2016.75,500),(2016.8,770),(2016.85,500),(2016.91,200),(2016.99,50),(2017.1,0),(2017.98,0)]
elsalvador_mean = [(2015.03,0),(2016.18,0),(2016.36,30),(2016.48,150),(2016.6,500),(2016.69,850),(2016.77,1050),(2016.83,800),(2016.89,400),(2016.96,120),(2017.05,30),(2017.2,0),(2017.98,0)]
elsalvador_obs = [(2015.03,0),(2015.84,0),(2015.88,100),(2015.91,500),(2015.92,800),(2015.95,950),(2015.97,900),(2015.99,1200),(2016.01,1000),(2016.02,3850),(2016.04,900),(2016.06,800),(2016.08,700),(2016.1,500),(2016.13,200),(2016.15,100),(2016.18,200),(2016.21,80),(2016.3,50),(2016.42,80),(2016.54,40),(2016.66,30),(2016.78,20),(2016.96,10),(2017.14,5),(2017.38,0),(2017.98,0)]
elsalvador_ticks = [0, 1000, 2000, 3000, 4000]

frguiana_hi = [(2015.03,0),(2015.99,0),(2016.11,30),(2016.23,120),(2016.35,260),(2016.44,380),(2016.5,420),(2016.56,400),(2016.62,300),(2016.72,180),(2016.84,100),(2016.93,70),(2016.99,60),(2017.05,70),(2017.14,90),(2017.26,120),(2017.38,170),(2017.45,220),(2017.52,225),(2017.58,200),(2017.65,130),(2017.75,70),(2017.87,40),(2017.98,30)]
frguiana_lo = [(2015.03,0),(2016.02,0),(2016.17,10),(2016.29,30),(2016.41,60),(2016.5,85),(2016.58,95),(2016.65,70),(2016.75,40),(2016.84,30),(2016.96,30),(2017.08,45),(2017.2,50),(2017.38,52),(2017.5,50),(2017.62,35),(2017.75,15),(2017.87,5),(2017.98,3)]
frguiana_mean = [(2015.03,0),(2015.99,0),(2016.08,10),(2016.2,50),(2016.32,110),(2016.44,180),(2016.55,230),(2016.61,210),(2016.68,150),(2016.78,100),(2016.87,70),(2016.96,55),(2017.02,60),(2017.08,70),(2017.2,85),(2017.32,110),(2017.41,150),(2017.47,165),(2017.53,160),(2017.62,110),(2017.72,60),(2017.84,30),(2017.98,17)]
frguiana_obs = [(2015.03,0),(2016.0,0),(2016.02,50),(2016.05,170),(2016.08,220),(2016.11,250),(2016.14,420),(2016.17,430),(2016.19,480),(2016.21,490),(2016.23,430),(2016.25,480),(2016.27,420),(2016.3,480),(2016.32,300),(2016.33,490),(2016.35,400),(2016.37,480),(2016.39,440),(2016.41,480),(2016.44,360),(2016.46,240),(2016.48,380),(2016.51,200),(2016.53,100),(2016.56,130),(2016.58,60),(2016.61,80),(2016.63,30),(2016.65,60),(2016.68,20),(2016.7,50),(2016.73,30),(2016.75,20),(2016.78,50),(2016.8,30),(2016.82,40),(2016.85,20),(2016.9,30),(2016.96,10),(2017.02,20),(2017.08,10),(2017.14,25),(2017.2,5),(2017.26,15),(2017.32,5),(2017.38,15),(2017.43,5),(2017.45,0),(2017.98,0)]
frguiana_ticks = [0, 100, 200, 300, 400, 500]

guadeloupe_hi = [(2015.03,0),(2015.8,0),(2015.9,100),(2015.98,300),(2016.0,600),(2016.06,700),(2016.13,750),(2016.19,950),(2016.26,1300),(2016.33,1700),(2016.39,1900),(2016.44,2000),(2016.49,1800),(2016.56,1300),(2016.63,800),(2016.69,400),(2016.79,150),(2016.92,30),(2017.05,0),(2017.98,0)]
guadeloupe_lo = [(2015.03,0),(2015.9,0),(2015.93,10),(2016.06,100),(2016.16,150),(2016.23,200),(2016.29,500),(2016.36,1000),(2016.41,1400),(2016.46,1300),(2016.52,900),(2016.58,500),(2016.66,200),(2016.76,50),(2016.9,0),(2017.98,0)]
guadeloupe_mean = [(2015.03,0),(2015.83,0),(2015.93,100),(2016.0,300),(2016.04,400),(2016.13,500),(2016.19,700),(2016.26,1000),(2016.33,1400),(2016.38,1660),(2016.44,1400),(2016.49,1000),(2016.56,600),(2016.63,300),(2016.73,100),(2016.86,20),(2017.0,0),(2017.98,0)]
guadeloupe_obs = [(2015.03,0),(2016.03,0),(2016.09,100),(2016.13,200),(2016.16,100),(2016.18,200),(2016.21,50),(2016.24,200),(2016.27,500),(2016.31,800),(2016.33,1400),(2016.35,1000),(2016.37,700),(2016.4,1800),(2016.43,2800),(2016.45,2400),(2016.47,2700),(2016.49,2200),(2016.52,2000),(2016.54,1400),(2016.57,700),(2016.59,350),(2016.63,200),(2016.66,150),(2016.71,300),(2016.75,350),(2016.79,100),(2016.84,50),(2016.89,20),(2016.94,40),(2017.02,20),(2017.09,30),(2017.22,10),(2017.36,20),(2017.42,0),(2017.98,0)]
guadeloupe_ticks = [0, 1000, 2000]

haiti_hi = [(2015.03,0),(2015.74,0),(2015.84,30),(2015.93,85),(2015.98,80),(2016.04,80),(2016.11,85),(2016.17,100),(2016.24,150),(2016.31,200),(2016.35,250),(2016.39,255),(2016.44,200),(2016.49,100),(2016.55,40),(2016.61,15),(2016.71,5),(2016.8,1),(2016.9,0),(2017.98,0)]
haiti_lo = [(2015.03,0),(2015.8,0),(2015.88,5),(2016.01,15),(2016.14,25),(2016.21,40),(2016.27,80),(2016.33,108),(2016.37,90),(2016.42,40),(2016.47,25),(2016.53,35),(2016.57,15),(2016.64,3),(2016.75,0),(2017.98,0)]
haiti_mean = [(2015.03,0),(2015.78,0),(2015.88,20),(2015.94,40),(2016.01,48),(2016.07,50),(2016.14,55),(2016.21,75),(2016.27,110),(2016.33,150),(2016.36,172),(2016.41,150),(2016.46,100),(2016.52,60),(2016.57,20),(2016.64,5),(2016.74,1),(2016.85,0),(2017.98,0)]
haiti_obs = [(2015.03,0),(2016.0,0),(2016.03,30),(2016.06,150),(2016.07,400),(2016.09,150),(2016.11,340),(2016.13,150),(2016.15,230),(2016.17,100),(2016.19,140),(2016.21,80),(2016.24,75),(2016.27,60),(2016.31,40),(2016.34,30),(2016.37,40),(2016.41,25),(2016.44,40),(2016.46,110),(2016.48,90),(2016.5,100),(2016.52,60),(2016.54,50),(2016.57,20),(2016.61,10),(2016.64,0),(2017.98,0)]
haiti_ticks = [0, 100, 200, 300, 400]

martinique_hi = [(2015.03,0),(2015.78,0),(2015.91,50),(2016.0,200),(2016.09,400),(2016.18,600),(2016.27,800),(2016.36,1200),(2016.45,1700),(2016.53,2100),(2016.59,2280),(2016.65,2100),(2016.71,1700),(2016.78,1000),(2016.85,500),(2016.93,200),(2017.05,30),(2017.2,0),(2017.98,0)]
martinique_lo = [(2015.03,0),(2015.85,0),(2015.94,10),(2016.06,50),(2016.18,70),(2016.27,200),(2016.36,500),(2016.45,900),(2016.51,1500),(2016.55,1100),(2016.6,600),(2016.66,300),(2016.72,150),(2016.81,50),(2016.9,10),(2017.0,0),(2017.98,0)]
martinique_mean = [(2015.03,0),(2015.81,0),(2015.91,30),(2016.0,100),(2016.09,200),(2016.18,300),(2016.27,500),(2016.36,900),(2016.45,1400),(2016.51,1900),(2016.54,1950),(2016.58,1700),(2016.63,1100),(2016.69,600),(2016.75,350),(2016.81,150),(2016.9,40),(2017.05,0),(2017.98,0)]
martinique_obs = [(2015.03,0),(2016.0,0),(2016.02,400),(2016.04,900),(2016.07,1650),(2016.09,1200),(2016.12,900),(2016.14,1600),(2016.16,1700),(2016.19,1700),(2016.21,1750),(2016.24,1200),(2016.26,1500),(2016.29,1600),(2016.31,1700),(2016.33,1400),(2016.36,1750),(2016.38,1200),(2016.41,1150),(2016.43,1050),(2016.45,900),(2016.48,700),(2016.5,600),(2016.53,500),(2016.55,400),(2016.58,350),(2016.6,200),(2016.62,300),(2016.65,150),(2016.67,250),(2016.7,200),(2016.72,100),(2016.78,50),(2016.84,20),(2016.93,30),(2017.02,0),(2017.98,0)]
martinique_ticks = [0, 500, 1000, 1500, 2000]

nicaragua_hi = [(2015.03,0),(2015.81,0),(2015.87,15),(2016.17,15),(2016.32,30),(2016.41,150),(2016.47,300),(2016.53,420),(2016.58,300),(2016.62,250),(2016.68,280),(2016.75,310),(2016.79,200),(2016.84,100),(2016.9,40),(2016.99,10),(2017.1,0),(2017.98,0)]
nicaragua_lo = [(2015.03,0),(2016.3,0),(2016.35,2),(2016.47,20),(2016.56,100),(2016.62,200),(2016.67,250),(2016.73,300),(2016.78,150),(2016.84,50),(2016.93,10),(2017.05,0),(2017.98,0)]
nicaragua_mean = [(2015.03,0),(2015.87,0),(2016.11,3),(2016.26,10),(2016.35,40),(2016.44,200),(2016.5,350),(2016.55,375),(2016.58,330),(2016.62,250),(2016.68,170),(2016.75,100),(2016.84,40),(2016.93,10),(2017.05,0),(2017.98,0)]
nicaragua_obs = [(2015.03,0),(2016.53,0),(2016.56,380),(2016.58,0),(2016.59,850),(2016.61,300),(2016.62,0),(2016.64,720),(2016.65,650),(2016.67,200),(2016.69,350),(2016.72,100),(2016.75,0),(2016.76,300),(2016.79,200),(2016.81,330),(2016.82,100),(2016.84,0),(2016.87,80),(2016.9,50),(2016.93,30),(2016.99,20),(2017.08,15),(2017.14,10),(2017.2,15),(2017.26,5),(2017.32,15),(2017.38,0),(2017.98,0)]
nicaragua_ticks = [0, 200, 400, 600, 800]

usvi_hi = [(2015.03,0),(2015.76,0),(2015.9,1),(2016.03,3),(2016.16,10),(2016.26,25),(2016.35,40),(2016.43,42),(2016.49,38),(2016.55,45),(2016.59,55),(2016.66,60),(2016.73,70),(2016.79,80),(2016.86,88),(2016.92,90),(2016.99,90),(2017.04,70),(2017.09,45),(2017.16,20),(2017.22,17),(2017.29,22),(2017.37,28),(2017.42,25),(2017.49,15),(2017.59,12),(2017.72,10),(2017.85,8),(2017.98,7)]
usvi_lo = [(2015.03,0),(2016.0,0),(2016.03,0.5),(2016.29,3),(2016.43,7),(2016.56,8),(2016.69,15),(2016.82,30),(2016.9,45),(2016.97,57),(2017.02,45),(2017.09,20),(2017.16,8),(2017.26,7),(2017.36,7),(2017.46,3),(2017.62,1),(2017.98,0.5)]
usvi_mean = [(2015.03,0),(2015.83,0),(2016.0,1),(2016.16,2),(2016.29,8),(2016.43,18),(2016.53,20),(2016.59,30),(2016.66,40),(2016.76,55),(2016.86,70),(2016.92,78),(2016.97,81),(2017.01,75),(2017.06,50),(2017.12,25),(2017.22,13),(2017.29,13),(2017.36,14),(2017.42,10),(2017.49,5),(2017.62,3),(2017.82,2),(2017.98,1.5)]
usvi_obs = [(2015.03,0),(2015.99,0),(2016.02,7),(2016.04,5),(2016.07,10),(2016.09,15),(2016.12,22),(2016.15,15),(2016.17,24),(2016.2,12),(2016.23,15),(2016.26,10),(2016.29,5),(2016.33,3),(2016.36,12),(2016.39,20),(2016.43,5),(2016.46,25),(2016.48,10),(2016.51,28),(2016.53,15),(2016.56,30),(2016.59,97),(2016.62,80),(2016.65,90),(2016.67,75),(2016.71,95),(2016.73,70),(2016.76,75),(2016.79,83),(2016.82,60),(2016.85,75),(2016.88,68),(2016.9,30),(2016.93,40),(2016.96,25),(2016.99,20),(2017.02,10),(2017.06,5),(2017.09,0),(2017.98,0)]
usvi_ticks = [0, 25, 50, 75, 100]

venezuela_hi = [(2015.03,0),(2015.71,0),(2015.78,300),(2015.84,1000),(2015.89,1500),(2015.94,1100),(2016.01,700),(2016.11,650),(2016.21,700),(2016.27,900),(2016.34,1500),(2016.41,2100),(2016.45,2350),(2016.51,1900),(2016.57,1400),(2016.64,1200),(2016.71,1100),(2016.77,1050),(2016.84,900),(2016.9,700),(2016.97,400),(2017.07,100),(2017.2,20),(2017.35,0),(2017.98,0)]
venezuela_lo = [(2015.03,0),(2015.78,0),(2015.81,50),(2015.94,200),(2016.07,600),(2016.21,600),(2016.31,700),(2016.37,1200),(2016.44,1700),(2016.49,1750),(2016.54,1400),(2016.64,1100),(2016.74,800),(2016.84,500),(2016.94,200),(2017.04,50),(2017.15,0),(2017.98,0)]
venezuela_mean = [(2015.03,0),(2015.74,0),(2015.81,300),(2015.86,700),(2015.91,950),(2015.96,850),(2016.0,800),(2016.04,750),(2016.11,700),(2016.17,650),(2016.24,600),(2016.31,900),(2016.37,1600),(2016.43,2050),(2016.47,1900),(2016.53,1500),(2016.61,1300),(2016.71,1100),(2016.8,1000),(2016.9,600),(2017.0,200),(2017.1,50),(2017.25,0),(2017.98,0)]
venezuela_obs = [(2015.03,0),(2015.98,0),(2016.02,200),(2016.06,5050),(2016.09,4500),(2016.11,4500),(2016.13,2600),(2016.15,4400),(2016.17,3500),(2016.19,2700),(2016.22,1500),(2016.25,1300),(2016.27,1500),(2016.3,1200),(2016.33,1600),(2016.35,1200),(2016.38,1700),(2016.41,1000),(2016.43,1800),(2016.46,1200),(2016.49,1300),(2016.51,800),(2016.54,600),(2016.57,500),(2016.61,400),(2016.64,250),(2016.67,150),(2016.74,100),(2016.8,100),(2016.87,50),(2016.94,80),(2017.07,20),(2017.17,50),(2017.24,0),(2017.98,0)]
venezuela_ticks = [0, 1000, 2000, 3000, 4000, 5000]

section_a = [
    ("Antigua Barbuda", antigua_mean, antigua_lo, antigua_hi, antigua_obs, antigua_ticks),
    ("Argentina", argentina_mean, argentina_lo, argentina_hi, argentina_obs, argentina_ticks),
    ("Bahamas", bahamas_mean, bahamas_lo, bahamas_hi, bahamas_obs, bahamas_ticks),
    ("Barbados", barbados_mean, barbados_lo, barbados_hi, barbados_obs, barbados_ticks),
    ("Belize", belize_mean, belize_lo, belize_hi, belize_obs, belize_ticks),
    ("Bolivia", bolivia_mean, bolivia_lo, bolivia_hi, bolivia_obs, bolivia_ticks),
    ("Brazil", brazil_mean, brazil_lo, brazil_hi, brazil_obs, brazil_ticks),
    ("Colombia", colombia_mean, colombia_lo, colombia_hi, colombia_obs, colombia_ticks),
    ("Costa Rica", costarica_mean, costarica_lo, costarica_hi, costarica_obs, costarica_ticks),
    ("Curacao", curacao_mean, curacao_lo, curacao_hi, curacao_obs, curacao_ticks),
    ("Dominican Republic", dominican_mean, dominican_lo, dominican_hi, dominican_obs, dominican_ticks),
    ("Ecuador", ecuador_mean, ecuador_lo, ecuador_hi, ecuador_obs, ecuador_ticks),
    ("Grenada", grenada_mean, grenada_lo, grenada_hi, grenada_obs, grenada_ticks),
    ("Guatemala", guatemala_mean, guatemala_lo, guatemala_hi, guatemala_obs, guatemala_ticks),
    ("Honduras", honduras_mean, honduras_lo, honduras_hi, honduras_obs, honduras_ticks),
    ("Jamaica", jamaica_mean, jamaica_lo, jamaica_hi, jamaica_obs, jamaica_ticks),
    ("Mexico", mexico_mean, mexico_lo, mexico_hi, mexico_obs, mexico_ticks),
    ("Panama", panama_mean, panama_lo, panama_hi, panama_obs, panama_ticks),
    ("Paraguay", paraguay_mean, paraguay_lo, paraguay_hi, paraguay_obs, paraguay_ticks),
    ("Peru", peru_mean, peru_lo, peru_hi, peru_obs, peru_ticks),
    ("Puerto Rico", puertorico_mean, puertorico_lo, puertorico_hi, puertorico_obs, puertorico_ticks),
    ("St Vin Grenadines", stvin_mean, stvin_lo, stvin_hi, stvin_obs, stvin_ticks),
    ("Suriname", suriname_mean, suriname_lo, suriname_hi, suriname_obs, suriname_ticks),
]
section_b = [
    ("Aruba", aruba_mean, aruba_lo, aruba_hi, aruba_obs, aruba_ticks),
    ("Cuba", cuba_mean, cuba_lo, cuba_hi, cuba_obs, cuba_ticks),
    ("Guyana", guyana_mean, guyana_lo, guyana_hi, guyana_obs, guyana_ticks),
    ("Trinidad Tobago", trinidad_mean, trinidad_lo, trinidad_hi, trinidad_obs, trinidad_ticks),
]
section_c = [
    ("El Salvador", elsalvador_mean, elsalvador_lo, elsalvador_hi, elsalvador_obs, elsalvador_ticks),
    ("French Guiana", frguiana_mean, frguiana_lo, frguiana_hi, frguiana_obs, frguiana_ticks),
    ("Guadeloupe", guadeloupe_mean, guadeloupe_lo, guadeloupe_hi, guadeloupe_obs, guadeloupe_ticks),
    ("Haiti", haiti_mean, haiti_lo, haiti_hi, haiti_obs, haiti_ticks),
    ("Martinique", martinique_mean, martinique_lo, martinique_hi, martinique_obs, martinique_ticks),
    ("Nicaragua", nicaragua_mean, nicaragua_lo, nicaragua_hi, nicaragua_obs, nicaragua_ticks),
    ("US Virgin Islands", usvi_mean, usvi_lo, usvi_hi, usvi_obs, usvi_ticks),
    ("Venezuela", venezuela_mean, venezuela_lo, venezuela_hi, venezuela_obs, venezuela_ticks),
]

year_ticks = [2015, 2016, 2017, 2018]

# STYLE

BLUE = "#0000FF"
LIGHT = "#ADD8E6"
RED = "#FF0000"
GRID = "#EBEBEB"
DARK = "#333333"
LW = 1.4

sns.set_theme(style="white")
plt.rcParams["font.family"] = ["Liberation Sans", "DejaVu Sans"]

fig = plt.figure(figsize=(W / 100, H / 100), dpi=100)


def box(x0, y0, w, h):
    # axes placed in pixel coordinates measured from the top-left corner
    return fig.add_axes([x0 / W, 1 - (y0 + h) / H, w / W, h / H])


def draw_panel(x0, top, w, strip_h, plot_h, name, mean, lo, hi, obs, ticks):
    st = box(x0, top, w, strip_h)
    st.set_facecolor("#D9D9D9")
    st.set_xticks([])
    st.set_yticks([])
    for s in st.spines.values():
        s.set_color(DARK)
        s.set_linewidth(1.0)
    st.text(0.5, 0.5 - 6.3 / strip_h, name, ha="center", va="baseline",
            fontsize=12.8, color="#1A1A1A", transform=st.transAxes)

    ax = box(x0, top + strip_h, w, plot_h)
    all_t, all_v = [], []
    for series, col in [(hi, LIGHT), (lo, LIGHT), (mean, BLUE), (obs, RED)]:
        t, v = zip(*series)
        all_t += t
        all_v += v
        sns.lineplot(x=list(t), y=list(v), ax=ax, color=col, linewidth=LW,
                     estimator=None, sort=False, legend=False)

    # ggplot-like 5% expansion
    t0, t1 = min(all_t), max(all_t)
    v0, v1 = min(all_v), max(all_v)
    ax.set_xlim(t0 - 0.05 * (t1 - t0), t1 + 0.05 * (t1 - t0))
    ax.set_ylim(v0 - 0.05 * (v1 - v0), v1 + 0.05 * (v1 - v0))

    ax.set_xticks(year_ticks)
    ax.set_xticklabels([str(y) for y in year_ticks])
    ax.set_xticks([y + 0.5 for y in year_ticks[:-1]], minor=True)
    step = ticks[1] - ticks[0]
    ax.set_yticks(ticks)
    if all(float(t).is_integer() for t in ticks):
        ax.set_yticklabels([str(int(t)) for t in ticks])
    else:
        ax.set_yticklabels([f"{t:.1f}" for t in ticks])
    ax.set_yticks([t + step / 2 for t in [ticks[0] - step] + ticks], minor=True)
    ax.set_ylim(v0 - 0.05 * (v1 - v0), v1 + 0.05 * (v1 - v0))

    ax.set_axisbelow(True)
    ax.grid(which="major", color=GRID, linewidth=1.1)
    ax.grid(which="minor", color=GRID, linewidth=0.55)
    ax.tick_params(which="major", direction="out", length=4.3, width=1.0,
                   color=DARK, labelcolor="#4D4D4D", labelsize=12.8, pad=3.5,
                   bottom=True, left=True)
    ax.tick_params(which="minor", length=0)
    for s in ax.spines.values():
        s.set_color(DARK)
        s.set_linewidth(1.0)
    ax.set_xlabel("")
    ax.set_ylabel("")


def draw_legend(y_mean, y_ci, y_data):
    for yy, col, label in [(y_mean, BLUE, "Model\u2212mean"),
                           (y_ci, LIGHT, "Model\u221295%CI"),
                           (y_data, RED, "Data\u2212value")]:
        fig.add_artist(Line2D([1269 / W, 1295 / W], [1 - yy / H, 1 - yy / H],
                              color=col, linewidth=2.2, transform=fig.transFigure))
        fig.text(1304 / W, 1 - (yy + 6.3) / H, label, fontsize=12.8,
                 color="#1A1A1A", va="baseline", ha="left")


# SECTION A: 6 rows x 4 columns
cols_a = [84.6, 373.5, 683.2, 992.3]
for i, p in enumerate(section_a):
    r, c = divmod(i, 4)
    draw_panel(cols_a[c], 10.7 + 218.3 * r, 237, 33.6, 149.7, *p)

# SECTION B: 1 row x 4 columns
cols_b = [70, 371.7, 678.7, 975.4]
for i, p in enumerate(section_b):
    draw_panel(cols_b[i], 1359, 254.6, 33.7, 163.3, *p)

# SECTION C: 2 rows x 4 columns
cols_c = [84.6, 379, 683.2, 987.3]
tops_c = [1628.9, 1879.4]
for i, p in enumerate(section_c):
    r, c = divmod(i, 4)
    draw_panel(cols_c[c], tops_c[r], 242.2, 34.3, 181.4, *p)

draw_legend(627, 660, 730)
draw_legend(1437, 1468, 1539)
draw_legend(1840, 1874, 1944)

# panel letters and axis titles
for letter, base in [("A", 37.3), ("B", 1380.7), ("C", 1647)]:
    fig.text(6 / W, 1 - base / H, letter, fontsize=35, fontweight="bold",
             va="baseline", ha="left", color="black")

for yc, label in [(666, "Confirmed and suspected"), (1474, "Confirmed"), (1878, "Suspected")]:
    fig.text(12 / W, 1 - yc / H, label, rotation=90, fontsize=15.5,
             ha="center", va="center", color="black")

for base, xc in [(1336.7, 657), (1606.7, 650), (2145, 657)]:
    fig.text(xc / W, 1 - base / H, "Time", fontsize=15.5, ha="center",
             va="baseline", color="black")

fig.savefig("out.png", dpi=100)
